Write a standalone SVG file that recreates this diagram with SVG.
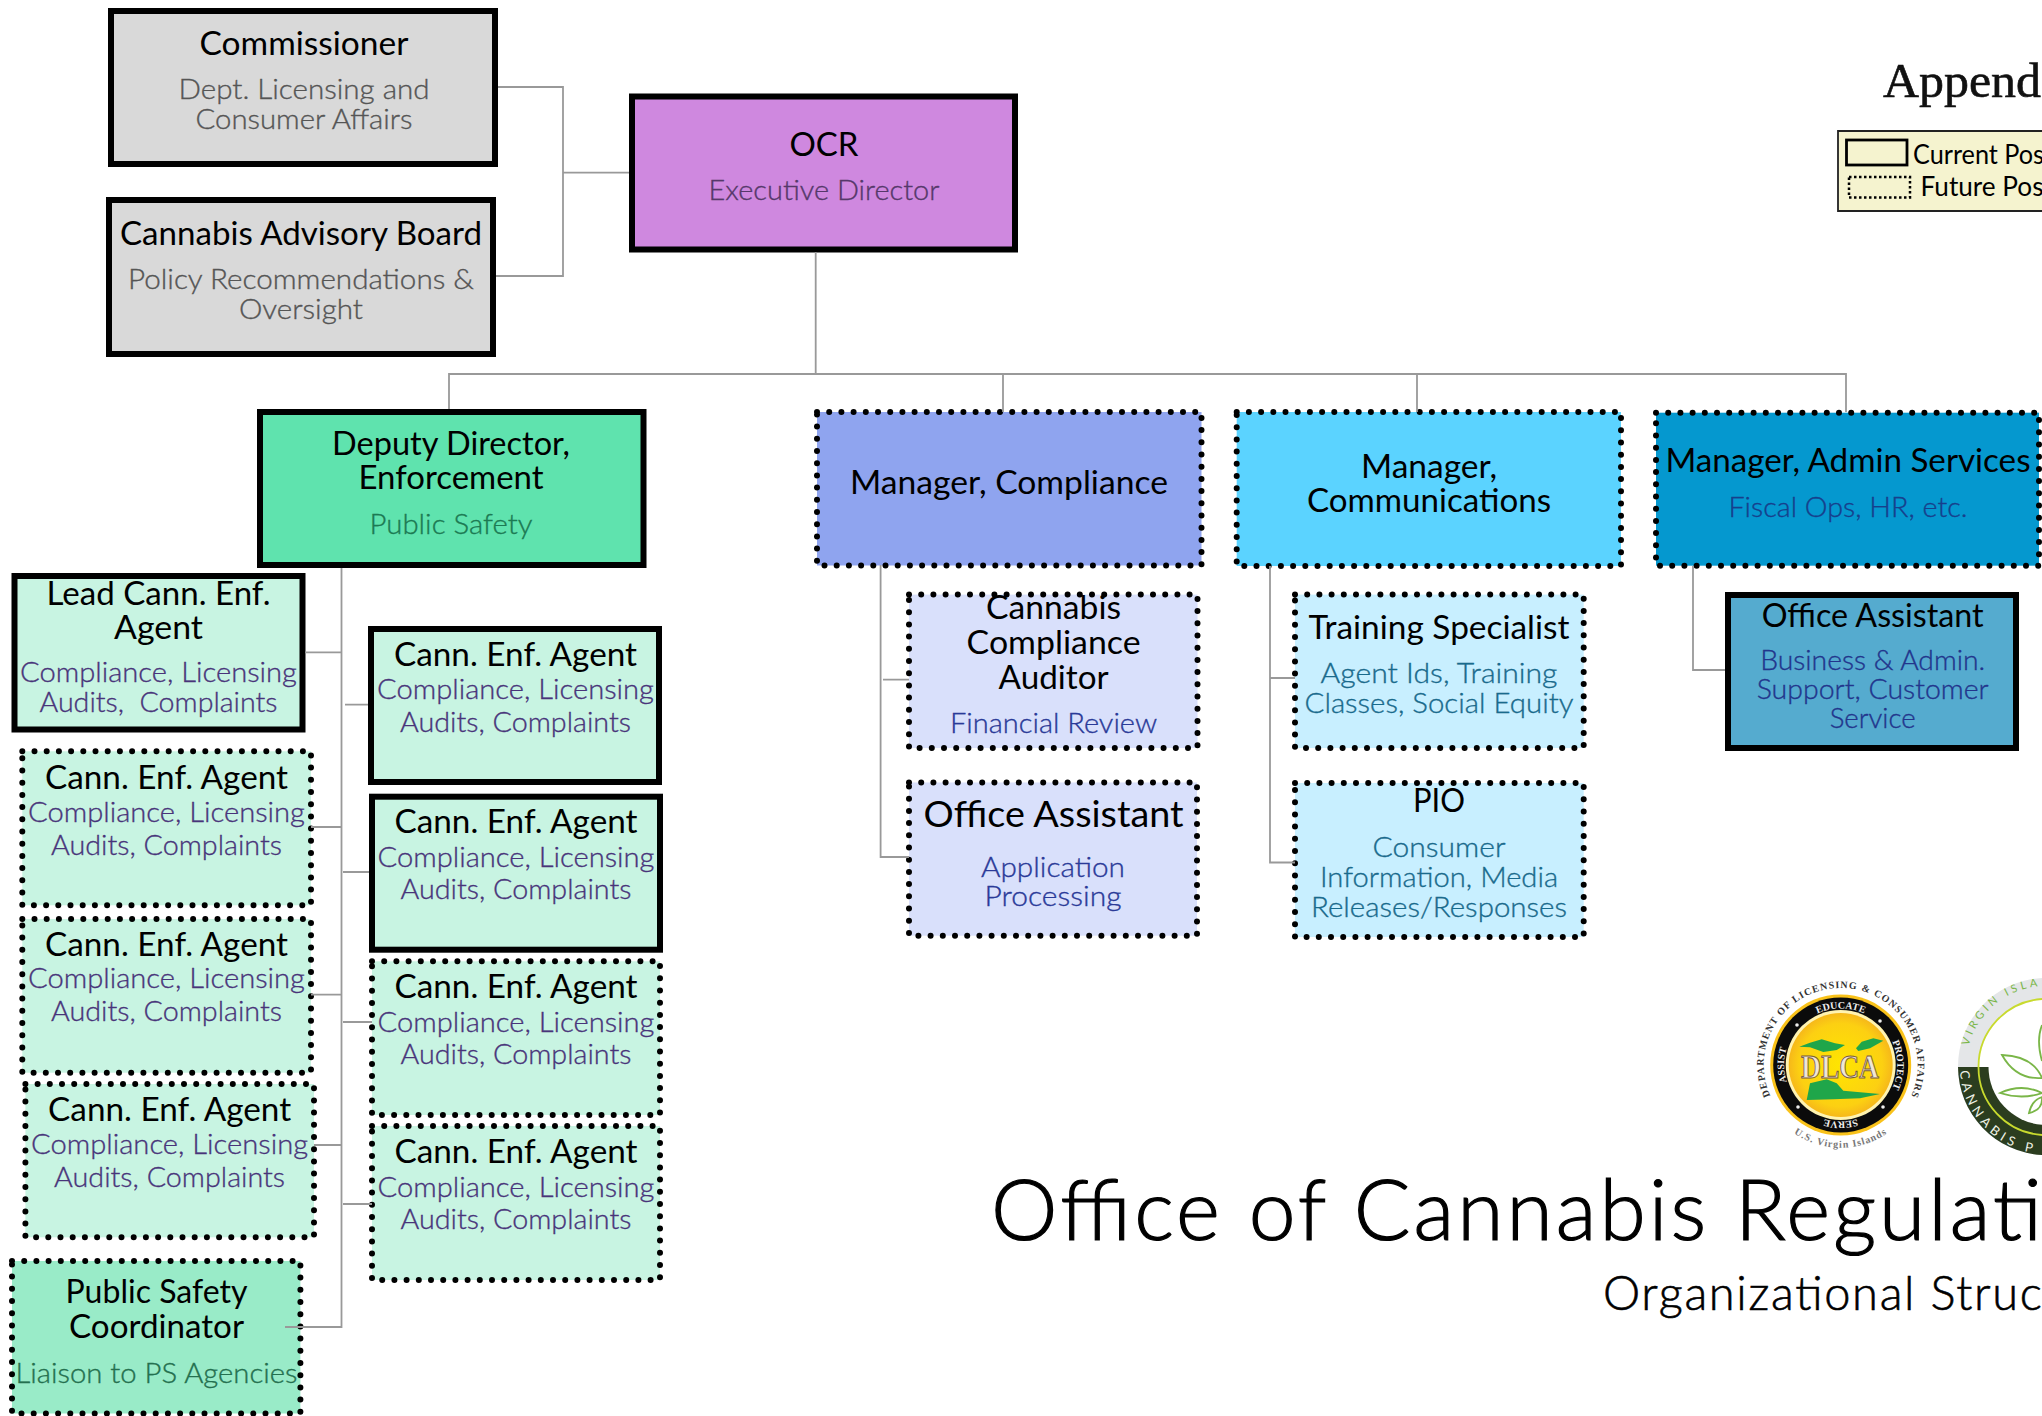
<svg xmlns="http://www.w3.org/2000/svg" xmlns:xlink="http://www.w3.org/1999/xlink" width="2042" height="1416" viewBox="0 0 2042 1416">
<style>
text{font-family:"Lato","Noto Sans","Liberation Sans",sans-serif;text-anchor:middle}
.t{font-size:33px;fill:#000}
.s{font-size:28px;font-weight:300;fill:currentColor;stroke:currentColor;stroke-width:.35}
.solid{stroke:#000;stroke-width:6}
.dot{stroke:#000;stroke-width:6;stroke-dasharray:0 12.2;stroke-linecap:round}
.grey{color:#555}.pur{color:#55386a}.grn{color:#1c7a53}.vio{color:#48347a}.blu{color:#2a3a98}.tea{color:#196a8c}.nav{color:#173f8c}.nv2{color:#22358c}.dgn{color:#24704f}
.f-gray{fill:#d9d9d9}.f-cann{fill:#c8f4e2}.f-aud{fill:#d9e0fb}.f-tra{fill:#c8efff}
.c{fill:none;stroke:#999;stroke-width:1.8}
.serifb{font-family:"Liberation Serif",serif;font-weight:700;text-anchor:middle}
</style>
<defs>
<radialGradient id="yg" cx="50%" cy="50%" r="50%"><stop offset="0" stop-color="#ffe500"/><stop offset=".8" stop-color="#fcd012"/><stop offset="1" stop-color="#f6b81a"/></radialGradient>
<path id="dlcaOuter" d="M1770.900 1097.500A77 77 0 1 1 1910.500 1097.500"/>
<path id="dlcaRing" d="M1800.700 1105A56.500 56.500 0 1 1 1880.700 1025A56.500 56.500 0 1 1 1800.700 1105"/>
<path id="dlcaUs" d="M1783.700 1125A83 83 0 0 0 1897.700 1125"/>
<path id="canTop" d="M1968.600 1046A80 80 0 0 1 2046.500 986"/>
<path id="canBot" d="M1960 1071A88 88 0 0 0 2046.500 1154"/>
</defs>

<g id="commissioner"><rect class="solid f-gray" x="111" y="11" width="384" height="153"/>
<text class="t" x="304" y="55" textLength="209" lengthAdjust="spacingAndGlyphs">Commissioner</text>
<text class="s grey" x="304" y="99" textLength="251" lengthAdjust="spacingAndGlyphs">Dept. Licensing and</text>
<text class="s grey" x="304" y="129" textLength="217" lengthAdjust="spacingAndGlyphs">Consumer Affairs</text></g>

<g id="advisory-board"><rect class="solid f-gray" x="109" y="200" width="384" height="154"/>
<text class="t" x="301" y="244.500" textLength="362" lengthAdjust="spacingAndGlyphs">Cannabis Advisory Board</text>
<text class="s grey" x="301" y="288.500" textLength="346" lengthAdjust="spacingAndGlyphs">Policy Recommendations &amp;</text>
<text class="s grey" x="301" y="318.500" textLength="124" lengthAdjust="spacingAndGlyphs">Oversight</text></g>

<g id="ocr"><rect class="solid" fill="#cf88df" x="632" y="96.500" width="383" height="153"/>
<text class="t" x="824" y="155.500" textLength="69" lengthAdjust="spacingAndGlyphs">OCR</text>
<text class="s pur" x="824" y="199.500" textLength="231" lengthAdjust="spacingAndGlyphs">Executive Director</text></g>

<g id="deputy"><rect class="solid" fill="#5fe3ae" x="260" y="412" width="383.500" height="153"/>
<text class="t" x="451" y="455" textLength="238" lengthAdjust="spacingAndGlyphs">Deputy Director,</text>
<text class="t" x="451" y="489" textLength="185" lengthAdjust="spacingAndGlyphs">Enforcement</text>
<text class="s grn" x="451" y="534" textLength="163" lengthAdjust="spacingAndGlyphs">Public Safety</text></g>

<g id="lead-agent"><rect class="solid f-cann" x="14.500" y="576" width="288" height="153.500"/>
<text class="t" x="158.500" y="604.500" textLength="224" lengthAdjust="spacingAndGlyphs">Lead Cann. Enf.</text>
<text class="t" x="158.500" y="638.500" textLength="89" lengthAdjust="spacingAndGlyphs">Agent</text>
<text class="s vio" x="158.500" y="682" textLength="277" lengthAdjust="spacingAndGlyphs">Compliance, Licensing</text>
<text class="s vio" x="158.500" y="712" textLength="238" lengthAdjust="spacingAndGlyphs" xml:space="preserve">Audits,  Complaints</text></g>

<g id="agent-left-1"><rect class="dot f-cann" x="22.300" y="751.300" width="288.700" height="154"/>
<text class="t" x="166.500" y="788.500" textLength="243" lengthAdjust="spacingAndGlyphs">Cann. Enf. Agent</text>
<text class="s vio" x="166.500" y="822" textLength="277" lengthAdjust="spacingAndGlyphs">Compliance, Licensing</text>
<text class="s vio" x="166.500" y="854.500" textLength="231" lengthAdjust="spacingAndGlyphs">Audits, Complaints</text></g>

<g id="agent-left-2"><rect class="dot f-cann" x="22.300" y="919" width="288.700" height="153.700"/>
<text class="t" x="166.500" y="955.500" textLength="243" lengthAdjust="spacingAndGlyphs">Cann. Enf. Agent</text>
<text class="s vio" x="166.500" y="988" textLength="277" lengthAdjust="spacingAndGlyphs">Compliance, Licensing</text>
<text class="s vio" x="166.500" y="1021" textLength="231" lengthAdjust="spacingAndGlyphs">Audits, Complaints</text></g>

<g id="agent-left-3"><rect class="dot f-cann" x="25.400" y="1084" width="288.600" height="153.300"/>
<text class="t" x="169.600" y="1120.500" textLength="243" lengthAdjust="spacingAndGlyphs">Cann. Enf. Agent</text>
<text class="s vio" x="169.600" y="1154" textLength="277" lengthAdjust="spacingAndGlyphs">Compliance, Licensing</text>
<text class="s vio" x="169.600" y="1187" textLength="231" lengthAdjust="spacingAndGlyphs">Audits, Complaints</text></g>

<g id="public-safety"><rect class="dot" fill="#99ebc8" x="12" y="1261" width="288.400" height="152.500"/>
<text class="t" x="156.500" y="1303" textLength="182" lengthAdjust="spacingAndGlyphs">Public Safety</text>
<text class="t" x="156.500" y="1337.500" textLength="175" lengthAdjust="spacingAndGlyphs">Coordinator</text>
<text class="s dgn" x="156.500" y="1383" textLength="282" lengthAdjust="spacingAndGlyphs">Liaison to PS Agencies</text></g>

<g id="agent-right-1"><rect class="solid f-cann" x="371" y="629" width="288" height="153"/>
<text class="t" x="515.500" y="665.500" textLength="243" lengthAdjust="spacingAndGlyphs">Cann. Enf. Agent</text>
<text class="s vio" x="515.500" y="699" textLength="277" lengthAdjust="spacingAndGlyphs">Compliance, Licensing</text>
<text class="s vio" x="515.500" y="732" textLength="231" lengthAdjust="spacingAndGlyphs">Audits, Complaints</text></g>

<g id="agent-right-2"><rect class="solid f-cann" x="372" y="796.700" width="288" height="153"/>
<text class="t" x="516" y="833" textLength="243" lengthAdjust="spacingAndGlyphs">Cann. Enf. Agent</text>
<text class="s vio" x="516" y="867" textLength="277" lengthAdjust="spacingAndGlyphs">Compliance, Licensing</text>
<text class="s vio" x="516" y="899" textLength="231" lengthAdjust="spacingAndGlyphs">Audits, Complaints</text></g>

<g id="agent-right-3"><rect class="dot f-cann" x="372" y="961.300" width="288" height="153.700"/>
<text class="t" x="516" y="997.500" textLength="243" lengthAdjust="spacingAndGlyphs">Cann. Enf. Agent</text>
<text class="s vio" x="516" y="1032" textLength="277" lengthAdjust="spacingAndGlyphs">Compliance, Licensing</text>
<text class="s vio" x="516" y="1063.500" textLength="231" lengthAdjust="spacingAndGlyphs">Audits, Complaints</text></g>

<g id="agent-right-4"><rect class="dot f-cann" x="372" y="1126" width="288" height="154"/>
<text class="t" x="516" y="1162.500" textLength="243" lengthAdjust="spacingAndGlyphs">Cann. Enf. Agent</text>
<text class="s vio" x="516" y="1197" textLength="277" lengthAdjust="spacingAndGlyphs">Compliance, Licensing</text>
<text class="s vio" x="516" y="1229" textLength="231" lengthAdjust="spacingAndGlyphs">Audits, Complaints</text></g>

<g id="manager-compliance"><rect class="dot" fill="#8fa4ef" x="817" y="412" width="384.500" height="153.500"/>
<text class="t" x="1009" y="494" textLength="318" lengthAdjust="spacingAndGlyphs">Manager, Compliance</text></g>

<g id="auditor"><rect class="dot f-aud" x="909" y="594.600" width="288.500" height="153.400"/>
<text class="t" x="1053.600" y="619" textLength="135" lengthAdjust="spacingAndGlyphs">Cannabis</text>
<text class="t" x="1053.600" y="654" textLength="174" lengthAdjust="spacingAndGlyphs">Compliance</text>
<text class="t" x="1053.600" y="689" textLength="110" lengthAdjust="spacingAndGlyphs">Auditor</text>
<text class="s blu" x="1053.600" y="733" textLength="207" lengthAdjust="spacingAndGlyphs">Financial Review</text></g>

<g id="office-assistant-compliance"><rect class="dot f-aud" x="909" y="782.500" width="288" height="153.200"/>
<text class="t" style="font-size:37px" x="1053.600" y="827" textLength="260" lengthAdjust="spacingAndGlyphs">Office Assistant</text>
<text class="s blu" x="1053" y="876.500" textLength="144" lengthAdjust="spacingAndGlyphs">Application</text>
<text class="s blu" x="1053" y="906" textLength="137" lengthAdjust="spacingAndGlyphs">Processing</text></g>

<g id="manager-communications"><rect class="dot" fill="#5bd3ff" x="1236.700" y="412" width="384.300" height="154"/>
<text class="t" x="1429" y="477.500" textLength="136" lengthAdjust="spacingAndGlyphs">Manager,</text>
<text class="t" x="1429" y="511.500" textLength="244" lengthAdjust="spacingAndGlyphs">Communications</text></g>

<g id="training"><rect class="dot f-tra" x="1295" y="594.600" width="288.700" height="153.400"/>
<text class="t" x="1439" y="638.500" textLength="261" lengthAdjust="spacingAndGlyphs">Training Specialist</text>
<text class="s tea" x="1439" y="683" textLength="237" lengthAdjust="spacingAndGlyphs">Agent Ids, Training</text>
<text class="s tea" x="1439" y="712.500" textLength="269" lengthAdjust="spacingAndGlyphs">Classes, Social Equity</text></g>

<g id="pio"><rect class="dot f-tra" x="1295" y="783" width="288.700" height="154"/>
<text class="t" x="1439" y="812" textLength="52" lengthAdjust="spacingAndGlyphs">PIO</text>
<text class="s tea" x="1439" y="857" textLength="133" lengthAdjust="spacingAndGlyphs">Consumer</text>
<text class="s tea" x="1439" y="887" textLength="238" lengthAdjust="spacingAndGlyphs">Information, Media</text>
<text class="s tea" x="1439" y="917" textLength="256" lengthAdjust="spacingAndGlyphs">Releases/Responses</text></g>

<g id="manager-admin"><rect class="dot" fill="#0598cf" x="1656" y="412.700" width="383" height="153"/>
<text class="t" x="1848" y="472" textLength="365" lengthAdjust="spacingAndGlyphs">Manager, Admin Services</text>
<text class="s nav" x="1848" y="517" textLength="239" lengthAdjust="spacingAndGlyphs">Fiscal Ops, HR, etc.</text></g>

<g id="office-assistant-admin"><rect class="solid" fill="#55abcf" x="1728" y="595" width="288" height="153"/>
<text class="t" x="1872.700" y="626.500" textLength="222" lengthAdjust="spacingAndGlyphs">Office Assistant</text>
<text class="s nv2" x="1872.700" y="670" textLength="225" lengthAdjust="spacingAndGlyphs">Business &amp; Admin.</text>
<text class="s nv2" x="1872.700" y="699" textLength="232" lengthAdjust="spacingAndGlyphs">Support, Customer</text>
<text class="s nv2" x="1872.700" y="728" textLength="86" lengthAdjust="spacingAndGlyphs">Service</text></g>

<g id="connectors">
<path class="c" d="M498 87H563V276H496M563 172.700H629"/>
<path class="c" d="M815.700 252V374M449 409V374H1846V412M1003 374V412M1417 374V412"/>
<path class="c" d="M341.500 568V1327H285M305 652.300H341.500M311 827H341.500M311 994.700H341.500M314 1145H341.500"/>
<path class="c" d="M345 704.700H368M343 872H369M343 1022H372M343 1204H372"/>
<path class="c" d="M880.600 565V857H909M883 679.600H909"/>
<path class="c" d="M1270 566V862.500H1295M1270 678H1295"/>
<path class="c" d="M1693 566V670H1725"/>
</g>

<g id="heading">
<text x="1883" y="97" style="font-family:'Liberation Serif',serif;font-size:48px;text-anchor:start;fill:#111;stroke:#111;stroke-width:.6" textLength="158" lengthAdjust="spacingAndGlyphs">Append</text>
<text x="991" y="1240" style="font-size:84px;font-weight:300;text-anchor:start;fill:#000;stroke:#000;stroke-width:1.200" textLength="1051" lengthAdjust="spacing">Office of Cannabis Regulati</text>
<text x="1603" y="1310" style="font-size:47px;font-weight:300;text-anchor:start;fill:#000;stroke:#000;stroke-width:.6" textLength="439" lengthAdjust="spacing">Organizational Struc</text>
</g>

<g id="legend">
<rect x="1838" y="131" width="204" height="80" fill="#f5f3cf"/>
<path d="M2042 131H1838V211H2042" fill="none" stroke="#222" stroke-width="1.800"/>
<rect x="1846.500" y="140" width="60.500" height="25" fill="none" stroke="#000" stroke-width="2.800"/>
<rect x="1849" y="177" width="61" height="20.500" fill="none" stroke="#000" stroke-width="2.500" stroke-dasharray="2.500 2.500"/>
<text x="1913" y="163.500" style="font-size:26px;text-anchor:start;fill:#000" textLength="131" lengthAdjust="spacingAndGlyphs">Current Pos</text>
<text x="1920.500" y="195.500" style="font-size:26px;text-anchor:start;fill:#000" textLength="123" lengthAdjust="spacingAndGlyphs">Future Pos</text>
</g>

<g id="logo-dlca">
<circle cx="1840.700" cy="1065" r="70.500" fill="#f9c21a"/>
<circle cx="1840.700" cy="1065" r="67.500" fill="#0b0b0b"/>
<circle cx="1840.700" cy="1065" r="55" fill="#fff3b0"/>
<circle cx="1840.700" cy="1065" r="52" fill="url(#yg)"/>
<g fill="#1fa64a">
<polygon points="1799.300,1046.700 1810,1042.700 1821.700,1039.300 1835,1043.300 1845,1045 1836.700,1050 1823.300,1052 1810,1047.300"/>
<polygon points="1856,1048.300 1861.700,1041.700 1873.300,1038.300 1883.300,1040.700 1870,1048.300 1858.300,1051"/>
<polygon points="1810,1083.300 1826.700,1079.300 1836.700,1083.300 1843.300,1090.700 1880,1094 1860,1098.300 1833.300,1099.300 1806.700,1100"/>
</g>
<text class="serifb" x="1840" y="1078" style="font-size:33px;fill:#f0e6d6;stroke:#7a5c3a;stroke-width:1" textLength="78" lengthAdjust="spacingAndGlyphs">DLCA</text>
<text class="serifb" style="font-size:10px;fill:#333"><textPath href="#dlcaOuter" startOffset="50%" textLength="305" lengthAdjust="spacing">DEPARTMENT OF LICENSING &amp; CONSUMER AFFAIRS</textPath></text>
<text class="serifb" style="font-size:10px;fill:#eee"><textPath href="#dlcaRing" startOffset="37.500%">EDUCATE</textPath></text>
<text class="serifb" style="font-size:10px;fill:#eee"><textPath href="#dlcaRing" startOffset="62.500%">PROTECT</textPath></text>
<text class="serifb" style="font-size:10px;fill:#eee"><textPath href="#dlcaRing" startOffset="87.500%">SERVE</textPath></text>
<text class="serifb" style="font-size:10px;fill:#eee"><textPath href="#dlcaRing" startOffset="12.500%">ASSIST</textPath></text>
<text class="serifb" style="font-size:10px;fill:#777;letter-spacing:1px"><textPath href="#dlcaUs" startOffset="50%">U.S. Virgin Islands</textPath></text>
<g fill="#eee"><circle cx="1797" cy="1025" r="1.800"/><circle cx="1880" cy="1021" r="1.800"/><circle cx="1798" cy="1107" r="1.800"/><circle cx="1883" cy="1107" r="1.800"/></g>
</g>

<g id="logo-cannabis">
<path d="M1958 1067A88.500 88.500 0 0 1 2042 978V1067Z" fill="#e4e6e8"/>
<path d="M1958 1067A88.500 88.500 0 0 0 2042 1155V1067Z" fill="#2b3d1f"/>
<path d="M1978.500 1067A68 68 0 0 1 2042 999V1067Z" fill="#fff"/>
<path d="M1988.500 1067A58 58 0 0 0 2042 1124.800V1067Z" fill="#fff"/>
<path d="M1978.500 1067A68 68 0 0 1 2042 999M1978.500 1067A68 68 0 0 0 2042 1135" fill="none" stroke="#c8da2e" stroke-width="1.800"/>
<path d="M2002 1055Q2033 1056 2042 1078Q2016 1080 2002 1055ZM2000 1093Q2022 1083 2042 1093Q2022 1100 2000 1093ZM2029 1113Q2032 1100 2042 1097Q2043 1110 2029 1113ZM2042 1025Q2036 1040 2042 1061" fill="none" stroke="#7ab648" stroke-width="1.800"/>
<text style="font-size:11px;fill:#7ab648;letter-spacing:3.500px;text-anchor:start"><textPath href="#canTop">VIRGIN ISLA</textPath></text>
<text style="font-size:13px;fill:#eef2e6;letter-spacing:4.500px;text-anchor:start"><textPath href="#canBot">CANNABIS P</textPath></text>
</g>
</svg>
